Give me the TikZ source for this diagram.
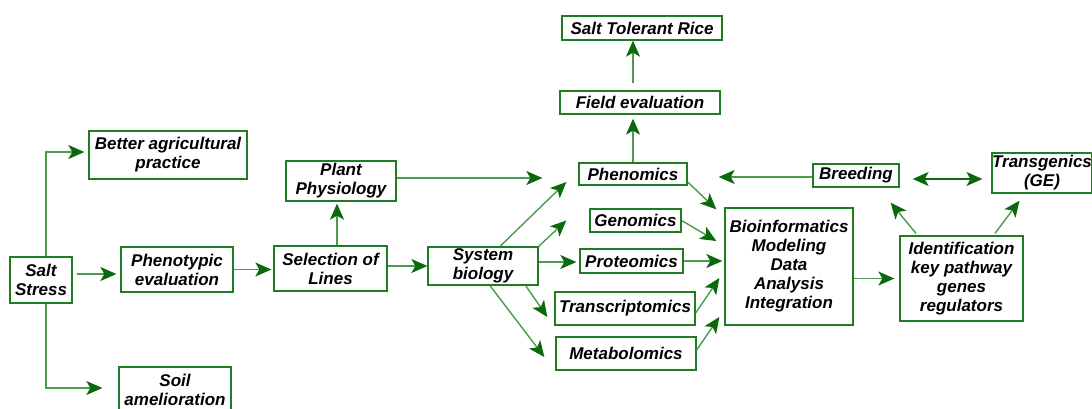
\documentclass[tikz,border=0pt]{standalone}
\usepackage{fontspec}
\setmainfont{Liberation Sans}
\usetikzlibrary{arrows.meta,calc}
\definecolor{boxc}{RGB}{30,125,30}
\definecolor{linec}{RGB}{75,155,75}
\definecolor{headc}{RGB}{10,105,10}
\begin{document}
\begin{tikzpicture}[x=1pt,y=-1pt,
  bx/.style={draw=boxc,line width=1.3pt,inner sep=0pt,align=center,
    font=\fontsize{17}{19}\selectfont\bfseries\itshape},
  arr/.style={draw=linec,line width=1.4pt,-{Stealth[length=16pt,width=14pt,inset=4pt,color=headc]}},
  darr/.style={draw=headc,line width=1.4pt,{Stealth[length=16pt,width=14pt,inset=4pt,color=headc]}-{Stealth[length=16pt,width=14pt,inset=4pt,color=headc]}}]
\useasboundingbox (0,0) rectangle (1092,408);
\node[bx,minimum width=62pt,minimum height=46pt] (salt) at (41,280) {Salt\\Stress};
\node[bx,minimum width=158pt,minimum height=48pt] (better) at (168,155) {Better agricultural\\practice};
\node[bx,minimum width=112pt,minimum height=46pt] (soil) at (175,390) {Soil\\amelioration};
\node[bx,minimum width=112pt,minimum height=45pt] (pheno) at (177,269.5) {Phenotypic\\evaluation};
\node[bx,minimum width=113pt,minimum height=45pt] (sel) at (330.5,268.5) {Selection of\\Lines};
\node[bx,minimum width=110pt,minimum height=40pt] (plant) at (341,181) {Plant\\Physiology};
\node[bx,minimum width=110pt,minimum height=38pt] (sys) at (483,266) {System\\biology};
\node[bx,minimum width=160pt,minimum height=24pt] (rice) at (642,28) {Salt Tolerant Rice};
\node[bx,minimum width=160pt,minimum height=23pt] (field) at (640,102.5) {Field evaluation};
\node[bx,minimum width=108pt,minimum height=22pt] (phenom) at (633,174) {Phenomics};
\node[bx,minimum width=91pt,minimum height=23pt] (genom) at (635.5,220.5) {Genomics};
\node[bx,minimum width=103pt,minimum height=24pt] (prot) at (631.5,261) {Proteomics};
\node[bx,minimum width=140pt,minimum height=33pt] (trans) at (625,308.5) {Transcriptomics};
\node[bx,minimum width=140pt,minimum height=33pt] (metab) at (626,353.5) {Metabolomics};
\node[bx,minimum width=128pt,minimum height=117pt] (bio) at (789,266.5) {Bioinformatics\\Modeling\\Data\\Analysis\\Integration};
\node[bx,minimum width=86pt,minimum height=23pt] (breed) at (856,175.5) {Breeding};
\node[bx,minimum width=99pt,minimum height=40pt] (transg) at (1042,173) {Transgenics\\(GE)};
\node[bx,minimum width=123pt,minimum height=85pt] (ident) at (961.5,278.5) {Identification\\key pathway\\genes\\regulators};
% connectors
\draw[arr] ([xshift=5pt]salt.north) |- ([xshift=-4pt,yshift=3pt]better.west);
\draw[arr] ([xshift=5pt]salt.south) |- ([xshift=-16pt,yshift=2pt]soil.west);
\draw[arr] ([xshift=4pt,yshift=6pt]salt.east) -- ([xshift=-4pt,yshift=-4.5pt]pheno.west);
\draw[arr,shorten >=2pt] (pheno.east) -- (sel.west |- pheno.east);
\draw[arr] ([xshift=6.5pt]sel.north) -- ([xshift=-4pt,yshift=-2pt]plant.south);
\draw[arr] (sel.east |- sys.west) -- (sys.west);
\draw[arr] ([yshift=3pt]plant.east) -- ([xshift=-36pt,yshift=-4pt]phenom.west);
\draw[arr] ([xshift=17pt]sys.north) -- ([xshift=-12pt,yshift=-8pt]phenom.west);
\draw[arr] (sys.north east) -- ([xshift=-23pt]genom.west);
\draw[arr] ([yshift=4pt]sys.east) -- ([xshift=-3pt,yshift=-1pt]prot.west);
\draw[arr] ([xshift=-13pt]sys.south east) -- ([xshift=-7pt,yshift=-8.5pt]trans.west);
\draw[arr] ([xshift=7pt]sys.south) -- ([xshift=-11pt,yshift=-3.5pt]metab.west);
\draw[arr] (phenom.north) -- ([xshift=-7pt,yshift=-4pt]field.south);
\draw[arr] ([xshift=-7pt,yshift=7pt]field.north) -- ([xshift=-9pt]rice.south);
\draw[arr] ([yshift=-8pt]phenom.east) -- ([xshift=-8pt,yshift=-2pt]bio.north west);
\draw[arr] (genom.east) -- ([xshift=-8pt,yshift=25.5pt]bio.west);
\draw[arr,shorten >=2pt] (prot.east) -- (prot.east -| bio.west);
\draw[arr] ([yshift=-4.5pt]trans.east) -- ([xshift=-5pt,yshift=-11.5pt]bio.west);
\draw[arr] ([yshift=3.5pt]metab.east) -- ([xshift=-5pt,yshift=-50.5pt]bio.west);
\draw[arr] ([yshift=-1.5pt]breed.west) -- ([xshift=31pt,yshift=-3pt]phenom.east);
\draw[darr] ([xshift=13pt,yshift=-3.5pt]breed.east) -- ([xshift=-9pt,yshift=-6pt]transg.west);
\draw[arr] (bio.east |- ident.west) -- ([xshift=-5pt]ident.west);
\draw[arr] ([xshift=-45.5pt,yshift=2pt]ident.north) -- ([xshift=-9pt,yshift=-15pt]breed.south east);
\draw[arr] ([xshift=33.5pt,yshift=2pt]ident.north) -- ([xshift=-22.5pt,yshift=-7pt]transg.south);
\end{tikzpicture}
\end{document}
